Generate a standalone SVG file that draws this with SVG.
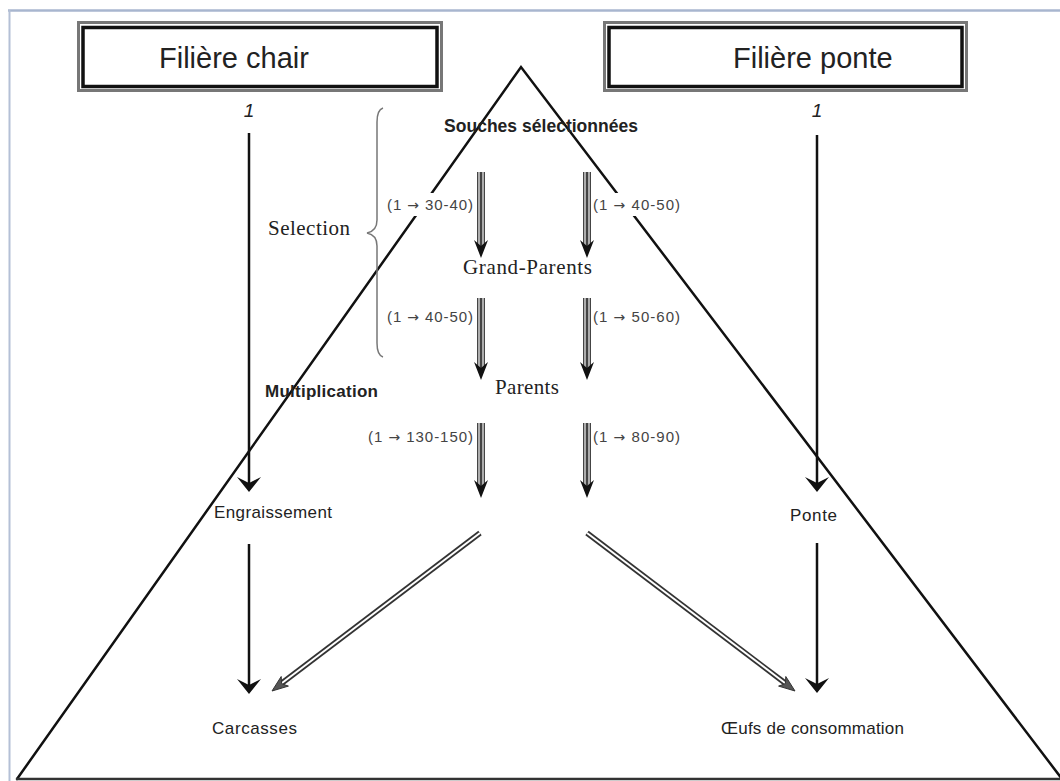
<svg xmlns="http://www.w3.org/2000/svg" width="1060" height="781" viewBox="0 0 1060 781">
<defs>
<style>
.sans{font-family:"Liberation Sans",Arial,sans-serif;fill:#222}
.serif{font-family:"Liberation Serif","Times New Roman",serif;fill:#222}
.lab{font-family:"Liberation Sans",Arial,sans-serif;font-size:15px;fill:#444}
.arr{font-family:"DejaVu Sans",sans-serif;font-size:14px}
.tri{stroke:#111;stroke-width:2.5;fill:none;stroke-linecap:round}
.blk{stroke:#111;stroke-width:2.5;fill:none}
.head{fill:#111}
.dsh{stroke:#444;stroke-width:8;fill:none}
.dshi{stroke:#c8c8c8;stroke-width:1.6;fill:none}
.dg{stroke:#333;stroke-width:5.5;fill:none}
.dgi{stroke:#fff;stroke-width:2;fill:none}
.dhead{fill:#555;stroke:#333;stroke-width:1}
</style>
</defs>
<rect width="1060" height="781" fill="#fff"/>
<!-- frame -->
<g id="frame">
<line x1="8" y1="10.5" x2="1060" y2="10.5" stroke="#a8b6cf" stroke-width="2.5"/>
<line x1="9.5" y1="10" x2="9.5" y2="781" stroke="#b4c0d6" stroke-width="2"/>
</g>
<!-- triangle -->
<g id="triangle">
<polyline class="tri" points="17,779 521,67 1062,779"/>
<line x1="16" y1="779" x2="1060" y2="779" stroke="#333" stroke-width="2.5"/>
</g>
<!-- boxes -->
<g id="box-chair">
<rect x="78.5" y="22.5" width="363" height="68" fill="#fff" stroke="#777" stroke-width="3"/>
<rect x="83" y="27.5" width="354" height="59" fill="none" stroke="#111" stroke-width="3.5"/>
<text class="sans" x="159" y="68" font-size="29">Filière chair</text>
</g>
<g id="box-ponte">
<rect x="604.5" y="22.5" width="362" height="68" fill="#fff" stroke="#777" stroke-width="3"/>
<rect x="609" y="27.5" width="353" height="59" fill="none" stroke="#111" stroke-width="3.5"/>
<text class="sans" x="733" y="68" font-size="29">Filière ponte</text>
</g>
<!-- brace -->
<g id="brace">
<path d="M383,108 Q377,110 377,122 L377,220 Q377,231 367,233 Q377,235 377,246 L377,343 Q377,355 383,357" fill="none" stroke="#777" stroke-width="1.5"/>
</g>
<!-- connectors -->
<g id="connectors">
<!-- left chain -->
<line class="blk" x1="249" y1="133" x2="249" y2="484"/>
<path class="head" d="M237,477 L249,492 L261,477 L249,483 Z"/>
<line class="blk" x1="249" y1="544" x2="249" y2="686"/>
<path class="head" d="M237,679 L249,694 L261,679 L249,685 Z"/>
<!-- right chain -->
<line class="blk" x1="817" y1="135" x2="817" y2="484"/>
<path class="head" d="M805,477 L817,492 L829,477 L817,483 Z"/>
<line class="blk" x1="817" y1="543" x2="817" y2="685"/>
<path class="head" d="M805,678 L817,693 L829,678 L817,684 Z"/>
<!-- center double arrows -->
<g id="darrows">
<line class="dsh" x1="481" y1="172" x2="481" y2="246"/>
<line class="dshi" x1="479" y1="172" x2="479" y2="246"/>
<line class="dshi" x1="483" y1="172" x2="483" y2="246"/>
<path class="head" d="M474,240 L481,258 L488,240 L481,246 Z"/>
<line class="dsh" x1="587" y1="172" x2="587" y2="246"/>
<line class="dshi" x1="585" y1="172" x2="585" y2="246"/>
<line class="dshi" x1="589" y1="172" x2="589" y2="246"/>
<path class="head" d="M580,240 L587,258 L594,240 L587,246 Z"/>
<line class="dsh" x1="481" y1="298" x2="481" y2="368"/>
<line class="dshi" x1="479" y1="298" x2="479" y2="368"/>
<line class="dshi" x1="483" y1="298" x2="483" y2="368"/>
<path class="head" d="M474,362 L481,380 L488,362 L481,368 Z"/>
<line class="dsh" x1="587" y1="298" x2="587" y2="368"/>
<line class="dshi" x1="585" y1="298" x2="585" y2="368"/>
<line class="dshi" x1="589" y1="298" x2="589" y2="368"/>
<path class="head" d="M580,362 L587,380 L594,362 L587,368 Z"/>
<line class="dsh" x1="481" y1="423" x2="481" y2="486"/>
<line class="dshi" x1="479" y1="423" x2="479" y2="486"/>
<line class="dshi" x1="483" y1="423" x2="483" y2="486"/>
<path class="head" d="M474,480 L481,498 L488,480 L481,486 Z"/>
<line class="dsh" x1="587" y1="423" x2="587" y2="486"/>
<line class="dshi" x1="585" y1="423" x2="585" y2="486"/>
<line class="dshi" x1="589" y1="423" x2="589" y2="486"/>
<path class="head" d="M580,480 L587,498 L594,480 L587,486 Z"/>
</g>
<!-- diagonal double arrows -->
<line class="dg" x1="480" y1="533" x2="282" y2="683"/>
<line class="dgi" x1="480" y1="533" x2="282" y2="683"/>
<path class="dhead" d="M272,691 L288.4,686.1 L281.6,683.7 L281.2,676.5 Z"/>
<line class="dg" x1="587" y1="533" x2="785" y2="683"/>
<line class="dgi" x1="587" y1="533" x2="785" y2="683"/>
<path class="dhead" d="M795,691 L785.8,676.5 L785.4,683.7 L778.6,686.1 Z"/>
</g>
<!-- ratio labels -->
<g id="labels">
<rect x="385" y="193" width="90" height="23" fill="#fff"/>
<text class="lab" x="387" y="210" textLength="86">(1 <tspan class="arr">→</tspan> 30-40)</text>
<rect x="592" y="193" width="90" height="23" fill="#fff"/>
<text class="lab" x="593" y="210" textLength="87">(1 <tspan class="arr">→</tspan> 40-50)</text>
<text class="lab" x="387" y="322" textLength="86">(1 <tspan class="arr">→</tspan> 40-50)</text>
<text class="lab" x="593" y="322" textLength="87">(1 <tspan class="arr">→</tspan> 50-60)</text>
<text class="lab" x="368" y="442" textLength="105">(1 <tspan class="arr">→</tspan> 130-150)</text>
<text class="lab" x="593" y="442" textLength="87">(1 <tspan class="arr">→</tspan> 80-90)</text>
</g>
<!-- nodes -->
<g id="node-souches"><text class="sans" x="444" y="132" font-size="17.5" font-weight="bold" textLength="194">Souches sélectionnées</text></g>
<g id="node-selection"><text class="serif" x="268" y="235" font-size="21" textLength="82">Selection</text></g>
<g id="node-grandparents"><text class="serif" x="463" y="274" font-size="21" textLength="129">Grand-Parents</text></g>
<g id="node-parents"><text class="serif" x="495" y="394" font-size="21" textLength="64">Parents</text></g>
<g id="node-multiplication"><text class="sans" x="265" y="397" font-size="17" font-weight="bold" textLength="113">Multiplication</text></g>
<g id="node-one-left"><text class="sans" x="249" y="117" font-size="19" font-style="italic" text-anchor="middle">1</text></g>
<g id="node-one-right"><text class="sans" x="817" y="117" font-size="19" font-style="italic" text-anchor="middle">1</text></g>
<g id="node-engraissement"><text class="sans" x="214" y="518" font-size="17" textLength="118">Engraissement</text></g>
<g id="node-ponte"><text class="sans" x="790" y="521" font-size="17" textLength="47">Ponte</text></g>
<g id="node-carcasses"><text class="sans" x="212" y="734" font-size="17" textLength="85">Carcasses</text></g>
<g id="node-oeufs"><text class="sans" x="721" y="734" font-size="17" textLength="183">Œufs de consommation</text></g>
</svg>
